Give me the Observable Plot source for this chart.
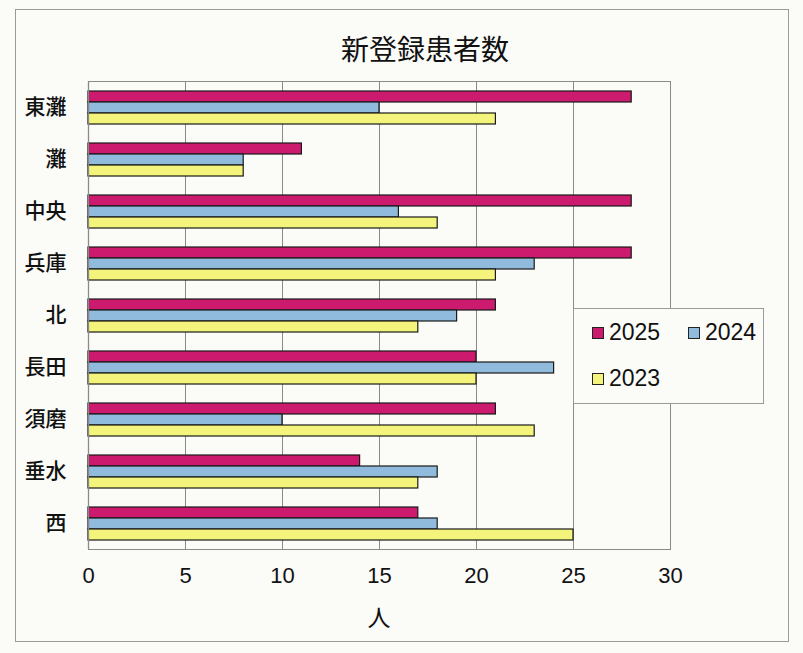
<!DOCTYPE html>
<html>
<head>
<meta charset="utf-8">
<script src="https://cdn.jsdelivr.net/npm/d3@7"></script>
<script src="https://cdn.jsdelivr.net/npm/@observablehq/plot@0.6"></script>
<style>
  body { margin: 0; background: #fbfbf8; }
  #wrap { position: relative; width: 803px; height: 653px; background: #fbfbf8; overflow: hidden; }
  #frame { position: absolute; left: 15px; top: 9px; width: 774px; height: 633px; border: 1px solid #9a9a9a; box-sizing: border-box; }
  #plotbox { position: absolute; left: 88px; top: 81px; width: 583px; height: 469px; border: 1px solid #8a8a8a; box-sizing: border-box; pointer-events: none; }
  #title { position: absolute; left: 0; width: 850px; top: 28px; text-align: center; font: 28px "Noto Sans CJK JP", sans-serif; color: #111; }
  #xlabel { position: absolute; left: 359px; width: 40px; top: 599px; text-align: center; font: 23px "Noto Sans CJK JP", sans-serif; color: #111; }
  #legend { position: absolute; left: 573px; top: 308px; width: 191px; height: 96px; border: 1px solid #9a9a9a; box-sizing: border-box; background: #fbfbf8; font-family: "Liberation Sans", sans-serif; font-size: 23px; color: #111; }
  .li { position: absolute; display: flex; align-items: center; }
  .sw { width: 10px; height: 10px; border: 1px solid #222; margin-right: 5px; }
  #chart { position: absolute; left: 0; top: 0; }
</style>
</head>
<body>
<div id="wrap">
  <div id="frame"></div>
  <div id="chart"></div>
  <div id="plotbox"></div>
  <div id="title">新登録患者数</div>
  <div id="xlabel">人</div>
  <div id="legend"></div>
</div>
<script>
const categories = ["東灘", "灘", "中央", "兵庫", "北", "長田", "須磨", "垂水", "西"];
const seriesNames = ["2025", "2024", "2023"];
const values2025 = [28, 11, 28, 28, 21, 20, 21, 14, 17];
const values2024 = [15, 8, 16, 23, 19, 24, 10, 18, 18];
const values2023 = [21, 8, 18, 21, 17, 20, 23, 17, 25];
const colors = ["#cc1a6e", "#90bbdd", "#f4f47c"];
const xTicks = [0, 5, 10, 15, 20, 25, 30];

const seriesValues = [values2025, values2024, values2023];
const data = [];
categories.forEach((c, i) => {
  seriesNames.forEach((s, j) => data.push({category: c, series: s, value: seriesValues[j][i]}));
});

const chart = Plot.plot({
  width: 803,
  height: 653,
  marginLeft: 88,
  marginRight: 133,
  marginTop: 81,
  marginBottom: 104,
  style: {background: "transparent", fontFamily: "'Liberation Sans', sans-serif"},
  x: {domain: [0, 30], ticks: xTicks, label: null},
  y: {domain: seriesNames, paddingInner: 0, paddingOuter: 0.68, axis: null},
  fy: {domain: categories, padding: 0, label: null, axis: null},
  color: {domain: seriesNames, range: colors},
  facet: {data, y: "category"},
  marks: [
    Plot.gridX(xTicks.filter(d => d > 0 && d < 30), {stroke: "#8a8a8a", strokeOpacity: 1, strokeWidth: 1}),
    Plot.barX(data, {x: "value", y: "series", fy: "category", fill: "series", stroke: "#1a1a1a", strokeWidth: 1.2}),
    Plot.axisX({ticks: xTicks, tickSize: 0, tickPadding: 18, fontSize: 22, anchor: "bottom", label: null, fill: "#111"}),
    Plot.axisFy({anchor: "left", tickSize: 0, tickPadding: 22, fontSize: 21, fontFamily: "'Noto Sans CJK JP', sans-serif", fontWeight: "500", fill: "#111", label: null}),
    Plot.ruleX([0], {stroke: "#555", strokeWidth: 1.2})
  ]
});
document.getElementById("chart").appendChild(chart);

const legend = document.getElementById("legend");
const pos = [[18, 10], [114, 10], [18, 56]];
seriesNames.forEach((s, i) => {
  const el = document.createElement("div");
  el.className = "li";
  el.style.left = pos[i][0] + "px";
  el.style.top = pos[i][1] + "px";
  el.innerHTML = `<span class="sw" style="background:${colors[i]}"></span><span>${s}</span>`;
  legend.appendChild(el);
});
</script>
</body>
</html>
